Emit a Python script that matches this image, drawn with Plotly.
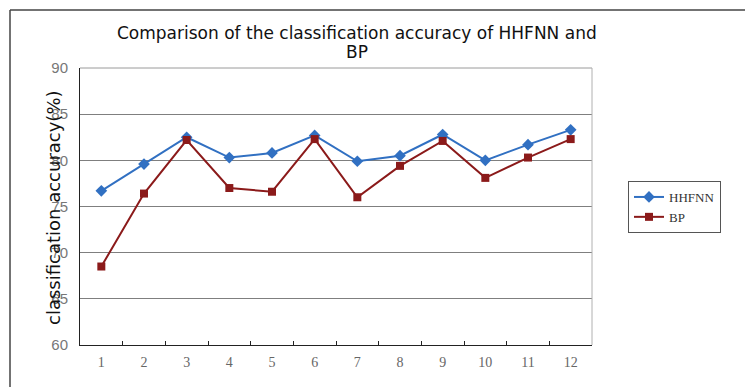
import plotly.graph_objects as go

categories = ["1", "2", "3", "4", "5", "6", "7", "8", "9", "10", "11", "12"]
hhfnn = [76.7, 79.6, 82.5, 80.3, 80.8, 82.7, 79.9, 80.5, 82.8, 80.0, 81.7, 83.3]
bp = [68.5, 76.4, 82.2, 77.0, 76.6, 82.3, 76.0, 79.4, 82.1, 78.1, 80.3, 82.3]
y_ticks = [60, 65, 70, 75, 80, 85, 90]

W, H = 745, 387
L, R, T, B = 80, 153, 68, 42
pw, ph = W - L - R, H - T - B

def px(x):
    return (x - L) / pw

def py(y):
    return (H - B - y) / ph

fig = go.Figure()
fig.add_trace(go.Scatter(
    x=categories, y=hhfnn, name="HHFNN", mode="lines+markers",
    line=dict(color="#3170c2", width=2),
    marker=dict(symbol="diamond", size=9, color="#3170c2"),
))
fig.add_trace(go.Scatter(
    x=categories, y=bp, name="BP", mode="lines+markers",
    line=dict(color="#8b1a1a", width=2),
    marker=dict(symbol="square", size=8, color="#8b1a1a"),
))

geo = "DejaVu Sans"
serif = "Liberation Serif"

fig.update_layout(
    width=W, height=H,
    margin=dict(l=L, r=R, t=T, b=B),
    paper_bgcolor="white", plot_bgcolor="white",
    showlegend=True,
    legend=dict(
        x=px(628), y=py(181), xanchor="left", yanchor="top",
        bordercolor="#555555", borderwidth=1,
        font=dict(family=serif, size=13, color="#333333"),
        tracegroupgap=0, itemwidth=30,
    ),
    xaxis=dict(
        type="category", range=[-0.5, 11.5],
        showline=True, linecolor="#222222", linewidth=1, mirror=False,
        ticks="inside", tickson="boundaries", ticklen=4, tickcolor="#222222",
        showgrid=False, zeroline=False,
        tickfont=dict(family=serif, size=14, color="#666666"),
        ticklabelstandoff=4,
    ),
    yaxis=dict(
        range=[60, 90], tickvals=y_ticks,
        showline=True, linecolor="#222222", linewidth=1,
        ticks="", showgrid=True, gridcolor="#7f7f7f", gridwidth=1,
        zeroline=False,
        tickfont=dict(family="Liberation Sans", size=15, color="#777777"),
        ticklabelstandoff=8,
    ),
    annotations=[
        dict(text="Comparison of the classification accuracy of HHFNN and",
             x=px(357), y=py(33), xref="paper", yref="paper",
             xanchor="center", yanchor="middle", showarrow=False,
             font=dict(family=geo, size=17, color="#111111")),
        dict(text="BP",
             x=px(357), y=py(52), xref="paper", yref="paper",
             xanchor="center", yanchor="middle", showarrow=False,
             font=dict(family=geo, size=17, color="#111111")),
        dict(text="classification accuracy(%)",
             x=px(53), y=py(208), xref="paper", yref="paper",
             xanchor="center", yanchor="middle", showarrow=False,
             textangle=-90,
             font=dict(family=geo, size=18, color="#111111")),
    ],
    shapes=[
        # plot-area top and right borders
        dict(type="line", xref="paper", yref="paper", x0=0, x1=1, y0=1, y1=1,
             line=dict(color="#9a9a9a", width=1)),
        dict(type="line", xref="paper", yref="paper", x0=1, x1=1, y0=0, y1=1,
             line=dict(color="#b0b0b0", width=1)),
        # outer frame (top and left)
        dict(type="line", xref="paper", yref="paper", x0=px(10), x1=px(745),
             y0=py(10), y1=py(10), line=dict(color="#444444", width=1.5)),
        dict(type="line", xref="paper", yref="paper", x0=px(10), x1=px(10),
             y0=py(10), y1=py(387), line=dict(color="#444444", width=1.5)),
    ],
)

fig.write_html("out.html")
